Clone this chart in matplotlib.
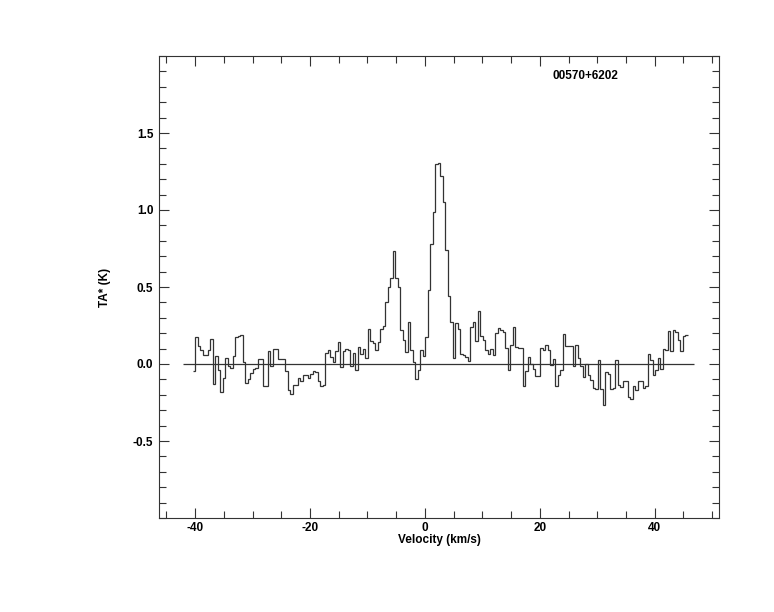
import numpy as np
import matplotlib.pyplot as plt
from matplotlib.ticker import MultipleLocator, FixedLocator

plt.rcParams['font.family'] = ['Liberation Sans', 'DejaVu Sans']
plt.rcParams['font.weight'] = 'bold'
plt.rcParams['axes.unicode_minus'] = False

# espectro: canal inicial e largura (km/s)
v_inicio = -40.4
dv = 0.435

# temperatura de antena TA* (K), canal a canal
ta = [
    -0.047,
    0.175, 0.119, 0.088, 0.06, 0.06, 0.093, 0.162,
    -0.127, 0.054, -0.041, -0.181, -0.09, 0.039, -0.015, -0.026, 0.054,
    0.175, 0.18, 0.187,
    0.01, -0.123, -0.10, -0.058, -0.032, -0.028,
    0.032, 0.032, -0.14, -0.14, 0.084, -0.01, 0.097, 0.097,
    0.032, 0.032, 0.032, -0.047, -0.166, -0.198, -0.134, -0.134,
    -0.09, -0.112, -0.069, -0.069, -0.09, -0.062, -0.047,
    -0.05, -0.11, -0.14, -0.134,
    # asa azul e primeiro pico
    0.071, 0.088, 0.045, 0.015, 0.082, 0.14, -0.02, 0.082, 0.097, 0.093,
    -0.01, 0.07, -0.04, 0.11, 0.067, 0.097, 0.039,
    0.226, 0.147, 0.136, 0.093, 0.14, 0.226, 0.244, 0.405, 0.498, 0.56, 0.733,
    0.56, 0.498, 0.222, 0.157, 0.075, 0.274, 0.093, 0.015, -0.10, -0.037,
    0.09, 0.05, 0.178, 0.478, 0.78, 0.99, 1.30, 1.306,
    # pico principal descendo
    1.218, 1.05, 0.74, 0.44, 0.27, 0.04,
    0.265, 0.226, 0.067, 0.058, 0.045, 0.017, 0.24, 0.27, 0.147, 0.347,
    0.179, 0.157, 0.093, 0.067, 0.097, 0.06, 0.2, 0.233, 0.222, 0.211,
    0.103, -0.037, 0.125, 0.24, 0.11, 0.103, 0.103, -0.14, -0.047, 0.045,
    0.002, -0.032, -0.075, -0.075, 0.103, 0.092, 0.125, 0.092, -0.004, 0.032,
    -0.14, -0.07, -0.037,
    0.196, 0.118, 0.118, 0.114, -0.015, 0.125, 0.039,
    -0.01, -0.084, 0.002, -0.069, -0.105, -0.155, -0.161, 0.028, -0.16, -0.263,
    -0.054, -0.062, -0.16, -0.155, 0.028, -0.134, -0.15, -0.11, -0.11, -0.213,
    -0.226, -0.14, -0.166, -0.11, -0.11, -0.155, -0.144, 0.067, 0.024, -0.069,
    -0.041, 0.039, -0.032, 0.097, 0.088, 0.216, 0.082, 0.218, 0.207, 0.157,
    0.082, 0.183, 0.187,
]

linha_base = (-42.1, 46.8)
fonte = '00570+6202'
xticks_maiores = [-40, -20, 0, 20, 40]
yticks_maiores = [-0.5, 0.0, 0.5, 1.0, 1.5]

bordas = v_inicio + dv * np.arange(len(ta) + 1)

fig = plt.figure(figsize=(7.74, 6.12), dpi=100)
ax = fig.add_axes([159 / 774, 1 - 518 / 612, 560 / 774, 462 / 612])

ax.stairs(ta, bordas, baseline=None, color='#333333', lw=0.9)
ax.hlines(0, linha_base[0], linha_base[1], color='#333333', lw=0.9)

ax.set_xlim(-46.3, 51.2)
ax.set_ylim(-1.0, 2.0)

ax.xaxis.set_major_locator(FixedLocator(xticks_maiores))
ax.xaxis.set_minor_locator(MultipleLocator(5))
ax.yaxis.set_major_locator(FixedLocator(yticks_maiores))
ax.yaxis.set_minor_locator(MultipleLocator(0.1))
ax.yaxis.set_major_formatter(plt.FormatStrFormatter('%.1f'))

ax.tick_params(which='both', direction='in', top=True, right=True,
               labelsize=8.5, colors='#333333', labelcolor='black')
ax.tick_params(axis='x', pad=3)
ax.tick_params(axis='y', pad=4)
ax.tick_params(which='major', length=7.5, width=0.8)
ax.tick_params(which='minor', length=5, width=0.8)
for s in ax.spines.values():
    s.set_linewidth(0.8)
    s.set_color('#333333')

ax.set_xlabel('Velocity (km/s)', fontsize=8.5, fontweight='bold')
ax.xaxis.set_label_coords(0.5, -0.034)
ax.set_ylabel('TA* (K)', fontsize=8.5, fontweight='bold')
ax.yaxis.set_label_coords(-0.086, 0.5)

ax.text(0.762, 0.957, fonte, transform=ax.transAxes, ha='center', va='center',
        fontsize=8.5, fontweight='bold')

fig.savefig('out.png', dpi=100)
